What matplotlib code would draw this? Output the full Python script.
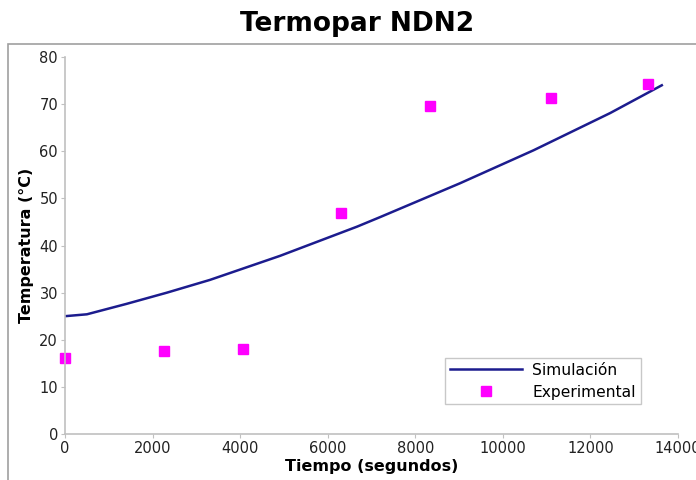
import matplotlib.pyplot as plt
from matplotlib.patches import Rectangle

# Simulation curve
sim_t = [0, 500, 1400, 2330, 3310, 4910, 6670, 7190, 9020, 10700, 12450, 13630]
sim_temp = [25.0, 25.4, 27.6, 30.0, 32.7, 37.8, 44.0, 46.0, 53.2, 60.2, 68.1, 74.0]

# Experimental points
exp_t = [0, 2270, 4070, 6300, 8330, 11100, 13310]
exp_temp = [16.1, 17.6, 18.0, 46.9, 69.6, 71.3, 74.2]

fig = plt.figure(figsize=(6.96, 4.8), dpi=100)

# Chart area border (runs off the right and bottom edges)
fig.patches.append(Rectangle((8 / 696, -0.05), 1.0, 1 - 44 / 480 + 0.05,
                             transform=fig.transFigure, fill=False,
                             edgecolor='#a0a0a0', linewidth=1.2))

ax = fig.add_axes([65 / 696, 46 / 480, 613 / 696, 377 / 480])

ax.plot(sim_t, sim_temp, color='#1c1c8e', linewidth=1.8, label='Simulación')
ax.plot(exp_t, exp_temp, linestyle='none', marker='s', markersize=7,
        color='#ff00ff', label='Experimental', clip_on=False)

ax.set_xlim(0, 14000)
ax.set_ylim(0, 80)
ax.set_xticks(range(0, 14001, 2000))
ax.set_yticks(range(0, 81, 10))

for side in ['top', 'right']:
    ax.spines[side].set_visible(False)
for side in ['left', 'bottom']:
    ax.spines[side].set_color('#c0c0c0')
    ax.spines[side].set_linewidth(1.2)
ax.tick_params(colors='#c0c0c0', labelcolor='#222222', labelsize=10.5,
               length=3, pad=2)

ax.set_xlabel('Tiempo (segundos)', fontsize=11.5, fontweight='bold', labelpad=2)
ax.set_ylabel('Temperatura (°C)', fontsize=11.5, fontweight='bold', labelpad=4)

fig.text(357 / 696, 1 - 24 / 480, 'Termopar NDN2', ha='center', va='center',
         fontsize=19, fontweight='bold')

leg = ax.legend(loc='lower right', bbox_to_anchor=(0.944, 0.07), fontsize=11.2,
                handlelength=4.6, fancybox=False, framealpha=1,
                borderpad=0.3, labelspacing=0.45, handletextpad=0.7,
                borderaxespad=0.2)
leg.get_frame().set_edgecolor('#c8c8c8')

fig.savefig('out.png', dpi=100)
